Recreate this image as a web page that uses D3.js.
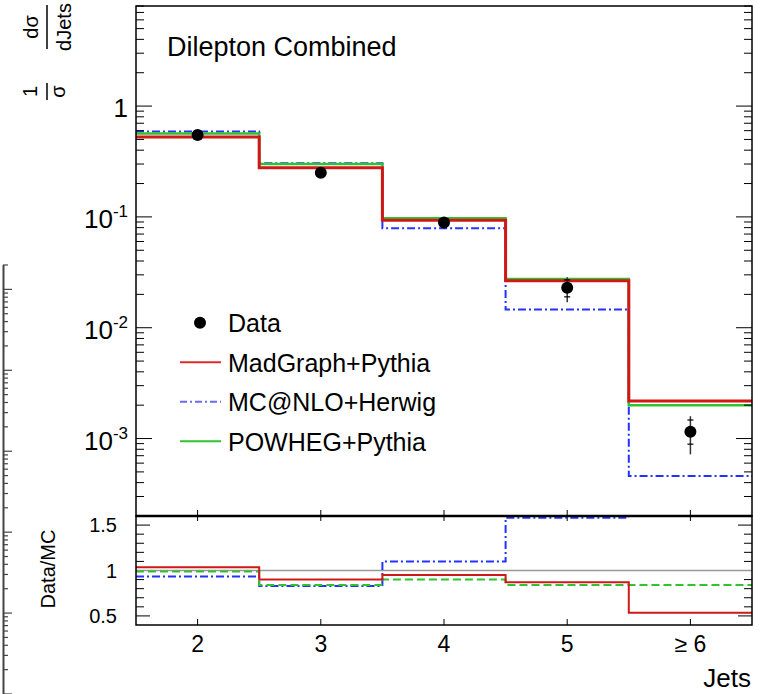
<!DOCTYPE html>
<html>
<head>
<meta charset="utf-8">
<script src="https://cdn.jsdelivr.net/npm/d3@7"></script>
<style>
    body { margin: 0; background: #fff; }
    text { font-family: "Liberation Sans", Arial, sans-serif; fill: #000; }
</style>
</head>
<body>
<svg id="chart" width="761" height="694"></svg>
<script>
// jet multiplicity bins
const jetBins = ['2', '3', '4', '5', '\u2265 6'];
const binCenters = [2, 3, 4, 5, 6];

// normalised cross section, data and predictions
const dataValues = [0.547, 0.25, 0.089, 0.023, 0.00115];
const dataErrTotal = [[0.53, 0.565], [0.242, 0.258], [0.086, 0.092], [0.017, 0.0286], [0.00072, 0.00159]];
const dataErrStat = [[0.54, 0.555], [0.246, 0.254], [0.088, 0.090], [0.019, 0.027], [0.00089, 0.00147]];
const madgraph = [0.525, 0.278, 0.0935, 0.0265, 0.00218];
const mcatnlo = [0.59, 0.305, 0.0788, 0.0146, 0.00046];
const powheg = [0.567, 0.30, 0.097, 0.0275, 0.0020];

// Data/MC ratios
const ratioMadgraph = [1.036, 0.90, 0.95, 0.87, 0.535];
const ratioMcatnlo = [0.935, 0.83, 1.10, 1.58, 2.5];
const ratioPowheg = [0.99, 0.84, 0.90, 0.84, 0.84];

const logTickLabels = [[1, '1', ''], [1e-1, '10', '-1'], [1e-2, '10', '-2'], [1e-3, '10', '-3']];
const ratioTicks = [0.5, 1, 1.5];

const svg = d3.select('#chart');

const x = d3.scaleLinear().domain([1.5, 6.5]).range([136, 752]);
const y = d3.scaleLog().domain([2e-4, 8]).range([516, 6]);
const yr = d3.scaleLinear().domain([0.4, 1.6]).range([625, 516]);

const colors = { red: '#d01818', blue: '#2233ff', green: '#2ec42e' };

svg.append('defs').call(defs => {
    defs.append('clipPath').attr('id', 'clip-main')
        .append('rect').attr('x', 136).attr('y', 6).attr('width', 616).attr('height', 510);
    defs.append('clipPath').attr('id', 'clip-ratio')
        .append('rect').attr('x', 136).attr('y', 516).attr('width', 616).attr('height', 109);
});

// step histogram path from bin values
function stepPoints(values) {
    const pts = [];
    values.forEach((v, i) => {
        pts.push([binCenters[i] - 0.5, v]);
        pts.push([binCenters[i] + 0.5, v]);
    });
    return pts;
}

function drawSteps(g, values, yScale, style) {
    g.append('path')
        .attr('d', d3.line().x(d => x(d[0])).y(d => yScale(d[1]))(stepPoints(values)))
        .attr('fill', 'none')
        .attr('stroke', style.color)
        .attr('stroke-width', style.width)
        .attr('stroke-dasharray', style.dash || null);
}

// partial axis of a neighbouring pad at the left edge
const yEdge = d3.scaleLog().domain([1e-5, 2]).range([694, 265]);
const edge = svg.append('g').attr('stroke', '#444').attr('stroke-width', 1.2);
edge.append('line').attr('x1', 3.5).attr('x2', 3.5).attr('y1', 265).attr('y2', 694)
    .attr('stroke-width', 2);
yEdge.ticks().forEach(t => {
    const major = Math.abs(Math.log10(t) - Math.round(Math.log10(t))) < 1e-9;
    edge.append('line').attr('x1', 3).attr('x2', major ? 12 : 8)
        .attr('y1', yEdge(t)).attr('y2', yEdge(t));
});

// ---- main pad ----
const main = svg.append('g').attr('clip-path', 'url(#clip-main)');
drawSteps(main, mcatnlo, y, { color: colors.blue, width: 2, dash: '8,3,2,3' });
drawSteps(main, powheg, y, { color: colors.green, width: 2.5 });
drawSteps(main, madgraph, y, { color: colors.red, width: 3 });

// data points with stat and total errors
const points = svg.append('g');
dataValues.forEach((v, i) => {
    const cx = x(binCenters[i]);
    points.append('line')
        .attr('x1', cx).attr('x2', cx)
        .attr('y1', y(dataErrTotal[i][0])).attr('y2', y(dataErrTotal[i][1]))
        .attr('stroke', '#333').attr('stroke-width', 1.5);
    dataErrStat[i].forEach(e => {
        points.append('line')
            .attr('x1', cx - 3).attr('x2', cx + 3)
            .attr('y1', y(e)).attr('y2', y(e))
            .attr('stroke', '#000').attr('stroke-width', 1.2);
    });
    points.append('circle').attr('cx', cx).attr('cy', y(v)).attr('r', 6).attr('fill', '#000');
});

// log ticks on both sides
const axes = svg.append('g').attr('stroke', '#000').attr('stroke-width', 1);
y.ticks().filter(t => t <= 8).forEach(t => {
    const major = Math.abs(Math.log10(t) - Math.round(Math.log10(t))) < 1e-9;
    const len = major ? 16 : 8;
    axes.append('line').attr('x1', 136).attr('x2', 136 + len).attr('y1', y(t)).attr('y2', y(t));
    axes.append('line').attr('x1', 752).attr('x2', 752 - len).attr('y1', y(t)).attr('y2', y(t));
});

logTickLabels.forEach(([v, base, exp]) => {
    const t = svg.append('text')
        .attr('x', 128).attr('y', y(v) + 11)
        .attr('text-anchor', 'end')
        .style('font-size', '26px')
        .text(base);
    if (exp) t.append('tspan').attr('dy', -11).style('font-size', '17px').text(exp);
});

// x ticks on main pad bottom
binCenters.forEach(c => {
    axes.append('line').attr('x1', x(c)).attr('x2', x(c)).attr('y1', 516).attr('y2', 510);
});

// title and legend
svg.append('text').attr('x', 167).attr('y', 56).style('font-size', '27px').text('Dilepton Combined');

const legendItems = [
    { label: 'Data', type: 'marker' },
    { label: 'MadGraph+Pythia', color: '#e02a2a' },
    { label: 'MC@NLO+Herwig', color: '#6a6aff', dash: '7,3,2,3' },
    { label: 'POWHEG+Pythia', color: colors.green }
];
legendItems.forEach((item, i) => {
    const cy = 322.7 + i * 39.5;
    if (item.type === 'marker') {
        svg.append('circle').attr('cx', 200).attr('cy', cy).attr('r', 6).attr('fill', '#000');
    } else {
        svg.append('line').attr('x1', 180).attr('x2', 221).attr('y1', cy).attr('y2', cy)
            .attr('stroke', item.color).attr('stroke-width', 2)
            .attr('stroke-dasharray', item.dash || null);
    }
    svg.append('text').attr('x', 228).attr('y', cy + 9.5).style('font-size', '25px').text(item.label);
});

// y axis title: 1/sigma dsigma/dJets
const ytitle = svg.append('g').attr('transform', 'rotate(-90)').style('font-size', '20px');
ytitle.append('text').attr('x', -91.5).attr('y', 37).attr('text-anchor', 'middle').text('1');
ytitle.append('text').attr('x', -91.5).attr('y', 65).attr('text-anchor', 'middle').text('\u03c3');
ytitle.append('line').attr('x1', -100).attr('x2', -83).attr('y1', 47).attr('y2', 47)
    .attr('stroke', '#000').attr('stroke-width', 1.5);
ytitle.append('text').attr('x', -27).attr('y', 38).attr('text-anchor', 'middle').text('d\u03c3');
ytitle.append('text').attr('x', -27).attr('y', 71).attr('text-anchor', 'middle').text('dJets');
ytitle.append('line').attr('x1', -49).attr('x2', -5).attr('y1', 47).attr('y2', 47)
    .attr('stroke', '#000').attr('stroke-width', 1.5);

// ---- ratio pad ----
svg.append('line').attr('x1', 136).attr('x2', 752).attr('y1', yr(1)).attr('y2', yr(1))
    .attr('stroke', '#999').attr('stroke-width', 1.5);

const ratio = svg.append('g').attr('clip-path', 'url(#clip-ratio)');
drawSteps(ratio, ratioMcatnlo, yr, { color: colors.blue, width: 2, dash: '8,3,2,3' });
drawSteps(ratio, ratioPowheg, yr, { color: colors.green, width: 2, dash: '8,4' });
drawSteps(ratio, ratioMadgraph, yr, { color: colors.red, width: 2 });

d3.range(0.5, 1.55, 0.1).forEach(t => {
    const major = ratioTicks.some(r => Math.abs(r - t) < 1e-6);
    const len = major ? 14 : 8;
    axes.append('line').attr('x1', 136).attr('x2', 136 + len).attr('y1', yr(t)).attr('y2', yr(t));
    axes.append('line').attr('x1', 752).attr('x2', 752 - len).attr('y1', yr(t)).attr('y2', yr(t));
});
binCenters.forEach(c => {
    axes.append('line').attr('x1', x(c)).attr('x2', x(c)).attr('y1', 516).attr('y2', 521);
    axes.append('line').attr('x1', x(c)).attr('x2', x(c)).attr('y1', 625).attr('y2', 619);
});

ratioTicks.forEach(t => {
    svg.append('text').attr('x', 117).attr('y', yr(t) + 7)
        .attr('text-anchor', 'end').style('font-size', '20px')
        .text(t === 1 ? '1' : t.toFixed(1));
});

svg.append('text')
    .attr('transform', 'translate(55,569) rotate(-90)')
    .attr('text-anchor', 'middle').style('font-size', '20px')
    .text('Data/MC');

jetBins.forEach((label, i) => {
    svg.append('text').attr('x', x(binCenters[i])).attr('y', 652)
        .attr('text-anchor', 'middle').style('font-size', '23px').text(label);
});
svg.append('text').attr('x', 751).attr('y', 687).attr('text-anchor', 'end')
    .style('font-size', '26px').text('Jets');

// frames
svg.append('rect').attr('x', 136).attr('y', 6).attr('width', 616).attr('height', 510)
    .attr('fill', 'none').attr('stroke', '#000').attr('stroke-width', 1.5);
svg.append('rect').attr('x', 136).attr('y', 516).attr('width', 616).attr('height', 109)
    .attr('fill', 'none').attr('stroke', '#000').attr('stroke-width', 1.5);
svg.append('line').attr('x1', 136).attr('x2', 752).attr('y1', 516).attr('y2', 516)
    .attr('stroke', '#000').attr('stroke-width', 2.5);
</script>
</body>
</html>
